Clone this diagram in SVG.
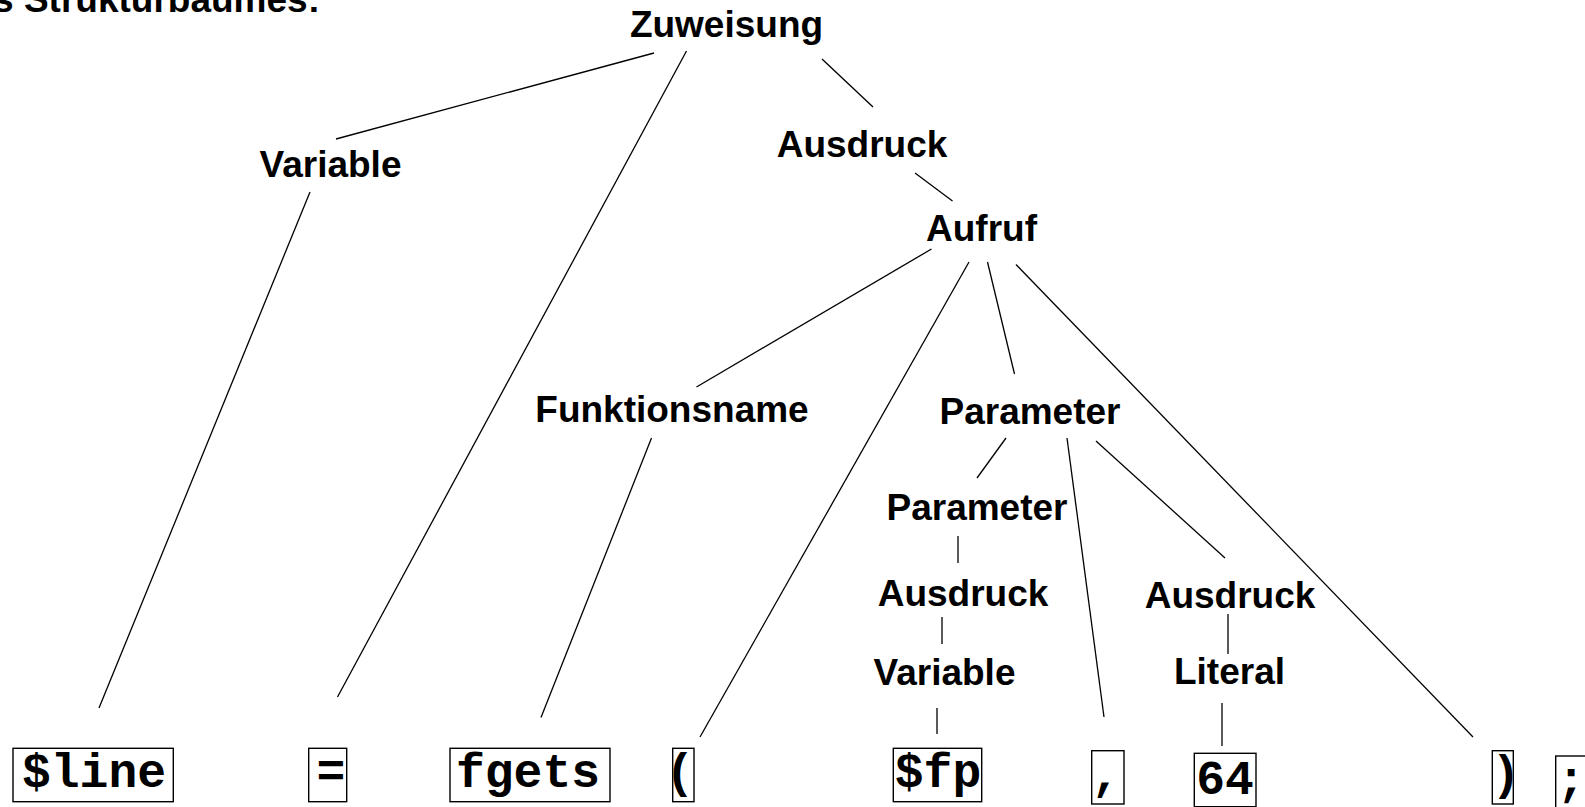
<svg xmlns="http://www.w3.org/2000/svg" width="1585" height="807" viewBox="0 0 1585 807">
  <style>
    .lbl { font-family: "Liberation Sans", Arial, sans-serif; font-weight: bold; font-size: 37px; fill: #000; text-anchor: middle; }
    .title { font-family: "Liberation Sans", Arial, sans-serif; font-weight: bold; font-size: 37px; fill: #000; text-anchor: end; }
    .tok { font-family: "Liberation Mono", "Courier New", monospace; font-weight: bold; font-size: 48px; fill: #000; text-anchor: middle; }
    .box { fill: none; stroke: #000; stroke-width: 1.4; }
    .edge { stroke: #000; stroke-width: 1.3; fill: none; }
  </style>
  <rect width="1585" height="807" fill="#fff"/>

  <text class="title" x="320" y="12">s Strukturbaumes:</text>

  <!-- tree edges -->
  <g id="edges">
    <line class="edge" x1="654" y1="53" x2="336" y2="139"/>
    <line class="edge" x1="686.5" y1="51" x2="337.5" y2="697"/>
    <line class="edge" x1="822" y1="59" x2="873" y2="107"/>
    <line class="edge" x1="310" y1="192" x2="99" y2="708"/>
    <line class="edge" x1="915" y1="173" x2="952.5" y2="201"/>
    <line class="edge" x1="931.5" y1="249" x2="696.5" y2="387"/>
    <line class="edge" x1="969" y1="262" x2="700" y2="737"/>
    <line class="edge" x1="987.5" y1="262" x2="1014.5" y2="374"/>
    <line class="edge" x1="1016" y1="264.5" x2="1473" y2="737"/>
    <line class="edge" x1="651.5" y1="438" x2="541" y2="717.5"/>
    <line class="edge" x1="1006" y1="438" x2="977" y2="478"/>
    <line class="edge" x1="1067" y1="438" x2="1104" y2="717"/>
    <line class="edge" x1="1096" y1="441" x2="1225" y2="558"/>
    <line class="edge" x1="958" y1="536" x2="958" y2="563"/>
    <line class="edge" x1="942" y1="617" x2="942" y2="644"/>
    <line class="edge" x1="937" y1="708" x2="937" y2="734"/>
    <line class="edge" x1="1228" y1="614" x2="1228" y2="654"/>
    <line class="edge" x1="1222" y1="703" x2="1222" y2="746"/>
  </g>

  <!-- inner nodes -->
  <g id="n-zuweisung"><text class="lbl" x="726.5" y="37">Zuweisung</text></g>
  <g id="n-variable"><text class="lbl" x="330.5" y="176.5">Variable</text></g>
  <g id="n-ausdruck"><text class="lbl" x="862" y="157">Ausdruck</text></g>
  <g id="n-aufruf"><text class="lbl" x="981.5" y="240.5">Aufruf</text></g>
  <g id="n-funktionsname"><text class="lbl" x="672" y="421.5">Funktionsname</text></g>
  <g id="n-parameter"><text class="lbl" x="1030" y="424">Parameter</text></g>
  <g id="n-parameter2"><text class="lbl" x="977" y="520">Parameter</text></g>
  <g id="n-ausdruck2"><text class="lbl" x="963" y="606">Ausdruck</text></g>
  <g id="n-variable2"><text class="lbl" x="944.5" y="685">Variable</text></g>
  <g id="n-ausdruck3"><text class="lbl" x="1230" y="608">Ausdruck</text></g>
  <g id="n-literal"><text class="lbl" x="1229.5" y="684">Literal</text></g>

  <!-- token leaves -->
  <g id="t-line"><rect class="box" x="13" y="748.3" width="160.3" height="53.4"/><text class="tok" x="94" y="787">$line</text></g>
  <g id="t-assign"><rect class="box" x="308.7" y="748.3" width="38" height="53.4"/><text class="tok" x="331" y="787">=</text></g>
  <g id="t-fgets"><rect class="box" x="450" y="748.3" width="160" height="53.4"/><text class="tok" x="528" y="787">fgets</text></g>
  <g id="t-lparen"><rect class="box" x="672.7" y="748.3" width="21.3" height="53.4"/><text class="tok" x="680" y="787">(</text></g>
  <g id="t-fp"><rect class="box" x="893.3" y="748.3" width="88.4" height="53.4"/><text class="tok" x="938" y="787">$fp</text></g>
  <g id="t-comma"><rect class="box" x="1091.7" y="750.7" width="32.3" height="53.3"/><text class="tok" x="1106" y="789">,</text></g>
  <g id="t-64"><rect class="box" x="1194.3" y="753.3" width="61.7" height="53.4"/><text class="tok" x="1225" y="794">64</text></g>
  <g id="t-rparen"><rect class="box" x="1492.3" y="750.7" width="21" height="53.3"/><text class="tok" x="1506" y="789">)</text></g>
  <g id="t-semi"><rect class="box" x="1555.7" y="756" width="40" height="53.4"/><text class="tok" x="1571" y="795">;</text></g>
</svg>
